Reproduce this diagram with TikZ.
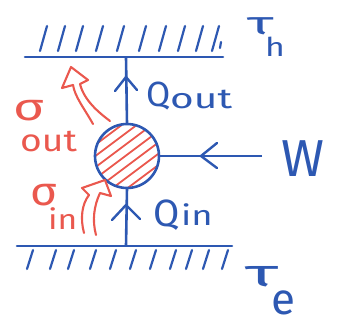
\documentclass[tikz,border=0pt]{standalone}
\usepackage{fontspec}
\setmainfont{Fira Sans}
\usetikzlibrary{calc}
\definecolor{ink}{RGB}{45,88,178}
\definecolor{redink}{RGB}{234,88,78}
\tikzset{
  wall/.style={ink, line width=2.6pt, line cap=round},
  hatchline/.style={ink, line width=2.2pt, line cap=round},
  flow/.style={ink, line width=2.6pt},
  barb/.style={ink, line width=2.4pt, line cap=round, line join=round},
  entropy/.style={redink, line width=2.1pt, line join=round, line cap=round},
  lbl/.style={ink, inner sep=0pt, anchor=base west},
  rlbl/.style={redink, inner sep=0pt, anchor=base west},
}
\newcommand{\txt}[3]{{\fontsize{#1}{#1}\selectfont\scalebox{#2}[1]{#3}}}
\begin{document}
\begin{tikzpicture}[x=1pt,y=-1pt]
  \useasboundingbox (0,0) rectangle (343,327);

  % hot reservoir
  \coordinate (tw1) at (25,57);
  \coordinate (tw2) at (223,57);
  \coordinate (topjoin) at (126,57);
  \draw[wall] (tw1) -- (tw2);
  \foreach \x in {40,58,76,96,117,139,159,178,196,212}
    \draw[hatchline] (\x,51) -- (\x+7,26);
  \draw[hatchline] (220,48) -- (221,42);

  % cold reservoir
  \coordinate (bw1) at (17,246);
  \coordinate (bw2) at (232,246);
  \coordinate (botjoin) at (126,246);
  \draw[wall] (bw1) -- (bw2);
  \foreach \x in {27,50,68,90,110,130,150,170,186,203,222}
    \draw[hatchline] (\x,269) -- (\x+6,250);

  % engine
  \node[circle, minimum size=64pt, inner sep=0pt] (sys) at (127,156) {};
  \begin{scope}
    \clip (sys.center) circle (31pt);
    \foreach \d in {-28,-19,...,29}
      \draw[redink, line width=1.8pt]
        ($(sys.center)+(\d*0.6+40,\d*0.8-30)$) -- ($(sys.center)+(\d*0.6-40,\d*0.8+30)$);
  \end{scope}
  \draw[ink, line width=2.6pt] (sys.center) circle (32pt);

  % heat and work flows
  \draw[flow] (sys.north) -- (topjoin);
  \draw[flow] (botjoin) -- (sys.south);
  \coordinate (wend) at (262,156);
  \draw[flow] (wend) -- (sys.east);
  \coordinate (qouttip) at (126,77);
  \coordinate (qintip) at (126,205);
  \coordinate (wtip) at (201,156);
  \draw[barb] ($(qouttip)+(-11,14)$) -- (qouttip) -- ($(qouttip)+(11,13)$);
  \draw[barb] ($(qintip)+(-14,15)$) -- (qintip) -- ($(qintip)+(14,14)$);
  \draw[barb] ($(wtip)+(16,-13)$) -- (wtip) -- ($(wtip)+(16,12)$);

  % entropy flows
  \draw[entropy] (93,124) .. controls (84,108) and (75,97) .. (73,85)
    -- (62,88) -- (71,67) -- (88,80) -- (80,84)
    .. controls (84,100) and (98,112) .. (110,121);
  \draw[entropy] (84,233) .. controls (80,218) and (82,204) .. (89,195)
    -- (82,188) -- (105,180) -- (111,196) -- (100,193)
    .. controls (94,206) and (92,220) .. (96,235);

  % labels
  \node[lbl] (th) at (247,34) {\txt{32}{1.8}{τ}};
  \node[lbl] (thsub) at (265,56) {\txt{26}{1.3}{h}};
  \node[lbl] (qout) at (146,106) {\txt{35}{1}{Q}};
  \node[lbl] (qoutsub) at (170,108) {\txt{28}{1.45}{out}};
  \node[lbl] (w) at (281,176) {\txt{52}{1}{W}};
  \node[lbl] (qin) at (153,226) {\txt{38}{1}{Q}};
  \node[lbl] (qinsub) at (181,225) {\txt{28}{1.3}{in}};
  \node[lbl] (te) at (245,286) {\txt{38}{1.9}{τ}};
  \node[lbl] (tesub) at (271,314) {\txt{44}{1}{e}};
  \node[rlbl] (sout) at (13,120) {\txt{38}{1.4}{σ}};
  \node[rlbl] (soutsub) at (20,151) {\txt{31}{1.2}{out}};
  \node[rlbl] (sin) at (30,205) {\txt{40}{1.15}{σ}};
  \node[rlbl] (sinsub) at (48,229) {\txt{28}{1.2}{in}};
\end{tikzpicture}
\end{document}
